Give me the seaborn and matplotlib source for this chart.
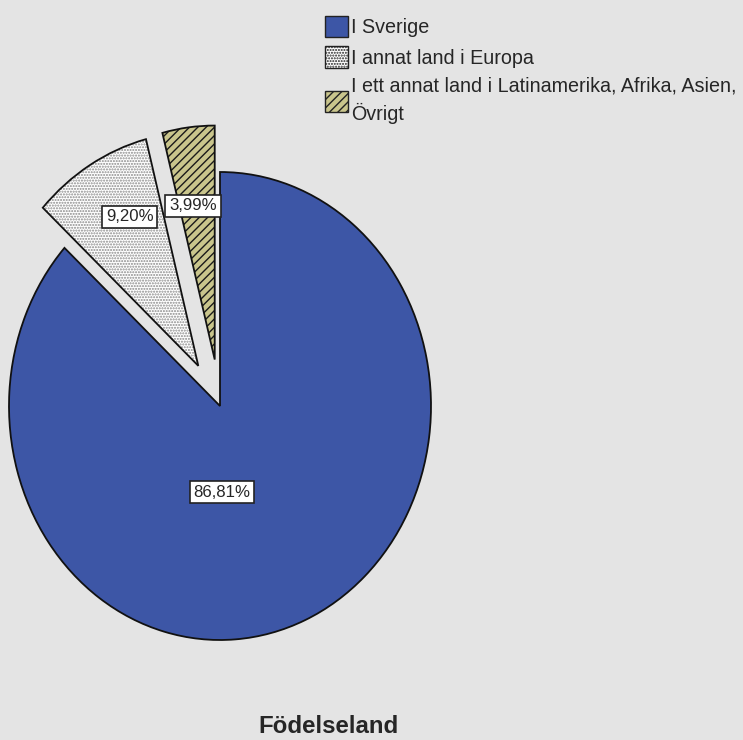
import matplotlib.pyplot as plt
from matplotlib import font_manager
from matplotlib.patches import Patch
import seaborn as sns

# data
categories = ["I Sverige", "I annat land i Europa",
              "I ett annat land i Latinamerika, Afrika, Asien,\nÖvrigt"]
percent = [86.81, 9.20, 3.99]
title = "Födelseland"

# style
fills = ["#3D56A6", "#FFFFFF", "#C9C58C"]
hatches = ["", "......", "////"]
hatch_edges = ["#1E2A55", "#8A8A8A", "#1A1A1A"]
explode = [0.0, 0.2, 0.2]
label_pos = [(0.01, -0.368), (-0.427, 0.808), (-0.128, 0.855)]
bg = "#E4E4E4"

sns.set_style("white", {"axes.facecolor": bg, "figure.facecolor": bg})
plt.rcParams["font.family"] = ["Liberation Sans", "DejaVu Sans"]
plt.rcParams["hatch.linewidth"] = 1.0

# the source uses a narrow sans; fall back to normal width if not installed
try:
    font_manager.findfont(font_manager.FontProperties(family="Liberation Sans Narrow"),
                          fallback_to_default=False)
    narrow = ["Liberation Sans Narrow", "Liberation Sans", "DejaVu Sans"]
    legend_size, pct_size = 17.4, 14.8
except ValueError:
    narrow = ["Liberation Sans", "DejaVu Sans"]
    legend_size, pct_size = 14.2, 12.1

fig = plt.figure(figsize=(7.43, 7.40), dpi=100)
ax = fig.add_axes([0, 0, 1, 1])
ax.set_facecolor(bg)

# filled + hatched wedges
wedges, _, autotexts = ax.pie(
    percent, explode=explode, startangle=90, counterclock=False,
    colors=fills, autopct=lambda p: f"{p:.2f}%".replace(".", ","),
    wedgeprops=dict(linewidth=0))
for w, h, ec in zip(wedges, hatches, hatch_edges):
    w.set_hatch(h)
    w.set_edgecolor(ec)
    w.set_linewidth(0)

# outlines
ax.pie(percent, explode=explode, startangle=90, counterclock=False,
       wedgeprops=dict(fill=False, edgecolor="#111111", linewidth=1.3))

for t, pos in zip(autotexts, label_pos):
    t.set_position(pos)
    t.set_fontsize(pct_size)
    t.set_family(narrow)
    t.set_bbox(dict(facecolor="white", edgecolor="#222222", linewidth=1.2,
                    boxstyle="square,pad=0.22"))

# stretched pie, like the source rendering
ax.set_aspect("auto")
ax.set_xlim(-220 / 211, (743 - 220) / 211)
ax.set_ylim(-(740 - 406) / 234, 406 / 234)
ax.axis("off")

handles = [Patch(facecolor=f, hatch=h, edgecolor="#222222", linewidth=1.0)
           for f, h in zip(fills, hatches)]
leg = fig.legend(handles, categories, loc="upper left",
                 bbox_to_anchor=(325 / 743, 1 - 16 / 740),
                 frameon=False, prop=dict(family=narrow, size=legend_size),
                 handlelength=1.15, handleheight=1.3, handletextpad=0.15,
                 labelspacing=0.45, borderpad=0, borderaxespad=0)
for t in leg.get_texts():
    t.set_linespacing(1.45)

fig.text(328 / 743, 1 - 733 / 740, title, ha="center", va="baseline",
         fontsize=17.3, fontweight="bold")

fig.savefig("out.png", dpi=100, facecolor=bg)
